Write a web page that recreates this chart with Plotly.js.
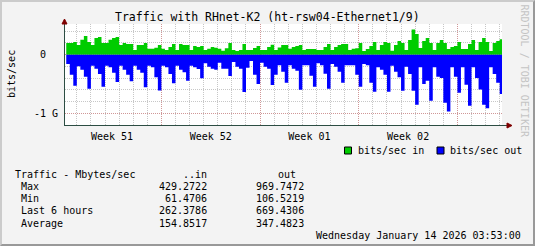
<!DOCTYPE html>
<html><head><meta charset="utf-8">
<script src="https://cdn.plot.ly/plotly-3.0.1.min.js"></script>
<style>
html,body{margin:0;padding:0;background:#f3f3f3;overflow:hidden;}
#wrap{position:relative;width:535px;height:246px;}
#chart{width:535px;height:246px;}
#frame{position:absolute;left:0;top:0;width:535px;height:246px;box-sizing:border-box;border-top:2px solid #cbcbcb;border-left:2px solid #cbcbcb;border-right:2px solid #999;border-bottom:2px solid #999;pointer-events:none;}
</style></head><body>
<div id="wrap"><div id="chart"></div><div id="frame"></div></div>
<script>
// ---------------- data ----------------
const chartTitle = 'Traffic with RHnet-K2 (ht-rsw04-Ethernet1/9)';
const yTitle = 'bits/sec';
const seriesNames = ['bits/sec in', 'bits/sec out'];
const firstBinStart = Date.UTC(2025, 11, 14, 6, 0, 0);   // first 6-hour bin
const binHours = 6;
const rangeStart = '2025-12-14 03:53:00';
const rangeEnd = '2026-01-14 03:53:00';
// Mbit/s per 6-hour bin
const inMbps = [199,199,216,165,256,318,216,165,284,301,199,199,256,284,301,165,199,182,182,80,
  165,165,199,102,102,119,165,102,80,131,182,80,182,165,165,80,148,131,148,80,
  102,131,119,102,68,108,199,80,63,80,182,80,80,114,148,80,80,131,171,80,
  125,165,165,102,131,148,165,80,97,97,97,80,80,131,182,80,131,165,182,182,
  80,102,108,199,63,97,148,216,80,165,216,199,68,165,233,199,80,250,429,353,
  114,233,284,199,80,199,250,199,97,131,148,216,97,97,182,250,80,216,284,216,
  63,199,233,262];
const outMbps = [159,341,529,199,256,375,580,188,239,330,546,188,216,307,466,188,256,341,455,188,
  256,307,557,188,216,387,609,188,216,330,489,188,256,301,444,188,216,245,404,148,
  205,239,256,137,239,239,364,125,205,239,637,222,107,341,501,137,205,239,518,341,
  182,290,478,182,239,273,597,182,182,358,546,148,182,324,580,159,205,290,478,182,
  182,182,341,546,159,182,478,631,216,256,341,631,188,290,387,614,205,330,614,853,
  216,501,444,785,216,375,398,819,970,216,375,648,216,512,870,216,398,592,853,916,
  216,330,478,669];
const weekLabels = ['Week 51', 'Week 52', 'Week 01', 'Week 02'];
const weekLabelTimes = ['2025-12-17 12:00', '2025-12-24 12:00', '2025-12-31 12:00', '2026-01-07 12:00'];
const weekStarts = ['2025-12-21', '2025-12-28', '2026-01-04', '2026-01-11'];
const yTickVals = [0, -1e9];
const yTickText = ['0\u00a0\u00a0', '-1 G'];
const statHeader = ['Traffic - Mbytes/sec', '..in', 'out'];
const statRows = ['Max', 'Min', 'Last 6 hours', 'Average'];
const statIn = ['429.2722', '61.4706', '262.3786', '154.8517'];
const statOut = ['969.7472', '106.5219', '669.4306', '347.4823'];
const stamp = 'Wednesday January 14 2026 03:53:00';
const watermark = 'RRDTOOL / TOBI OETIKER';

// ---------------- chart ----------------
const FONT = 'DejaVu Sans Mono, monospace';
const W = 535, H = 246, L = 65, R = 33, T = 24, B = 121;
const PW = W - L - R, PH = H - T - B;
const px = x => (x - L) / PW;
const py = y => (H - B - y) / PH;
const binMs = binHours * 3600e3;
// step area (RRD AREA): each bin starts at its time; last value held to the bin end
const edges = inMbps.map((_, k) => firstBinStart + k * binMs).concat([firstBinStart + inMbps.length * binMs]);
const stepIn = inMbps.concat([inMbps[inMbps.length - 1]]).map(v => v * 1e6);
const stepOut = outMbps.concat([outMbps[outMbps.length - 1]]).map(v => -v * 1e6);

const GREEN = '#00cc00', BLUE = '#0000ff';
const traces = [
  {type: 'scatter', mode: 'lines', x: edges, y: stepIn, name: seriesNames[0], line: {shape: 'hv', width: 0, color: GREEN},
   fill: 'tozeroy', fillcolor: GREEN, showlegend: false, hoverinfo: 'skip'},
  {type: 'scatter', mode: 'lines', x: edges, y: stepOut, name: seriesNames[1], line: {shape: 'hv', width: 0, color: BLUE},
   fill: 'tozeroy', fillcolor: BLUE, showlegend: false, hoverinfo: 'skip'},
  {type: 'scatter', x: [], y: [], xaxis: 'x2', yaxis: 'y', showlegend: false, hoverinfo: 'skip'}
];

const minorGrid = 'rgba(143,143,143,0.5)';
const majorGrid = 'rgba(222,80,80,0.4)';
const axisCol = '#2c4d43';
const arrowCol = '#7f0000';

const ann = [];
function txt(text, x, y, anchor, size, extra) {
  ann.push(Object.assign({text: text, xref: 'paper', yref: 'paper', x: px(x), y: py(y),
    xanchor: anchor, yanchor: 'middle', showarrow: false, borderpad: 0, borderwidth: 0,
    font: {family: FONT, size: size || 10, color: '#000'}}, extra || {}));
}
txt(chartTitle, 267, 17, 'center', 11.5);
txt(yTitle, 11, 74, 'center', 10, {textangle: -90});
txt(watermark, 524.5, 71, 'center', 10, {textangle: 90, font: {family: FONT, size: 10, color: '#c4c4c4'}});
txt(seriesNames[0], 357.5, 150.5, 'left', 10);
txt(seriesNames[1], 450, 150.5, 'left', 10);
txt(statHeader[0], 15.4, 174.3, 'left', 10);
txt(statHeader[1], 206.5, 174.3, 'right', 10);
txt(statHeader[2], 296, 174.3, 'right', 10);
statRows.forEach((r, i) => {
  const yy = 186.4 + i * 12.25;
  txt(r, 21.2, yy, 'left', 10);
  txt(statIn[i], 206.5, yy, 'right', 10);
  txt(statOut[i], 304.4, yy, 'right', 10);
});
txt(stamp, 521.2, 235.2, 'right', 10);

const shapes = [
  {type: 'rect', xref: 'paper', yref: 'paper', x0: px(344.5), x1: px(351.5), y0: py(154), y1: py(147),
   fillcolor: GREEN, line: {color: '#000', width: 1}},
  {type: 'rect', xref: 'paper', yref: 'paper', x0: px(437), x1: px(444), y0: py(154), y1: py(147),
   fillcolor: BLUE, line: {color: '#000', width: 1}},
  // x axis extension + arrow
  {type: 'line', xref: 'paper', yref: 'paper', xsizemode: 'pixel', ysizemode: 'pixel', xanchor: 1, yanchor: 0,
   x0: 0, x1: 6, y0: -0.5, y1: -0.5, line: {color: axisCol, width: 1}},
  {type: 'path', xref: 'paper', yref: 'paper', xsizemode: 'pixel', ysizemode: 'pixel', xanchor: 1, yanchor: 0,
   path: 'M5,-3L10,-0.5L5,2Z', fillcolor: arrowCol, line: {color: arrowCol, width: 1}},
  // y axis arrow
  {type: 'path', xref: 'paper', yref: 'paper', xsizemode: 'pixel', ysizemode: 'pixel', xanchor: 0, yanchor: 1,
   path: 'M-3,0L2,0L-0.5,5Z', fillcolor: arrowCol, line: {color: arrowCol, width: 1}}
];

const layout = {
  width: W, height: H,
  margin: {l: L, r: R, t: T, b: B, pad: 0},
  paper_bgcolor: '#f3f3f3', plot_bgcolor: '#ffffff',
  showlegend: false,
  font: {family: FONT, size: 10, color: '#000'},
  xaxis: {type: 'date', range: [rangeStart, rangeEnd], tickmode: 'array', tickvals: weekLabelTimes,
    ticktext: weekLabels, ticks: '', showgrid: false, zeroline: false,
    showline: true, linecolor: axisCol, linewidth: 1, ticklabelstandoff: 2,
    tickfont: {family: FONT, size: 10, color: '#000'}, fixedrange: true,
    minor: {dtick: 86400000, tick0: '2025-12-14', showgrid: true, gridcolor: minorGrid,
      griddash: '1px,1px', gridwidth: 1, ticks: ''}},
  xaxis2: {type: 'date', overlaying: 'x', range: [rangeStart, rangeEnd], tickmode: 'array',
    tickvals: weekStarts, showticklabels: false, ticks: '', showgrid: true, gridcolor: majorGrid,
    griddash: '1px,1px', gridwidth: 1, zeroline: false, showline: false, fixedrange: true},
  yaxis: {range: [-1.2e9, 0.524e9], tickmode: 'array', tickvals: yTickVals, ticktext: yTickText,
    showgrid: true, gridcolor: majorGrid, griddash: '1px,1px', gridwidth: 1, zeroline: false,
    showline: true, linecolor: axisCol, linewidth: 1, ticks: '', ticklabelstandoff: 4,
    tickfont: {family: FONT, size: 10, color: '#000'}, fixedrange: true,
    minor: {dtick: 2e8, tick0: 0, showgrid: true, gridcolor: minorGrid, griddash: '1px,1px',
      gridwidth: 1, ticks: ''}},
  annotations: ann,
  shapes: shapes
};

Plotly.newPlot('chart', traces, layout, {staticPlot: true, displayModeBar: false});
</script>
</body></html>
